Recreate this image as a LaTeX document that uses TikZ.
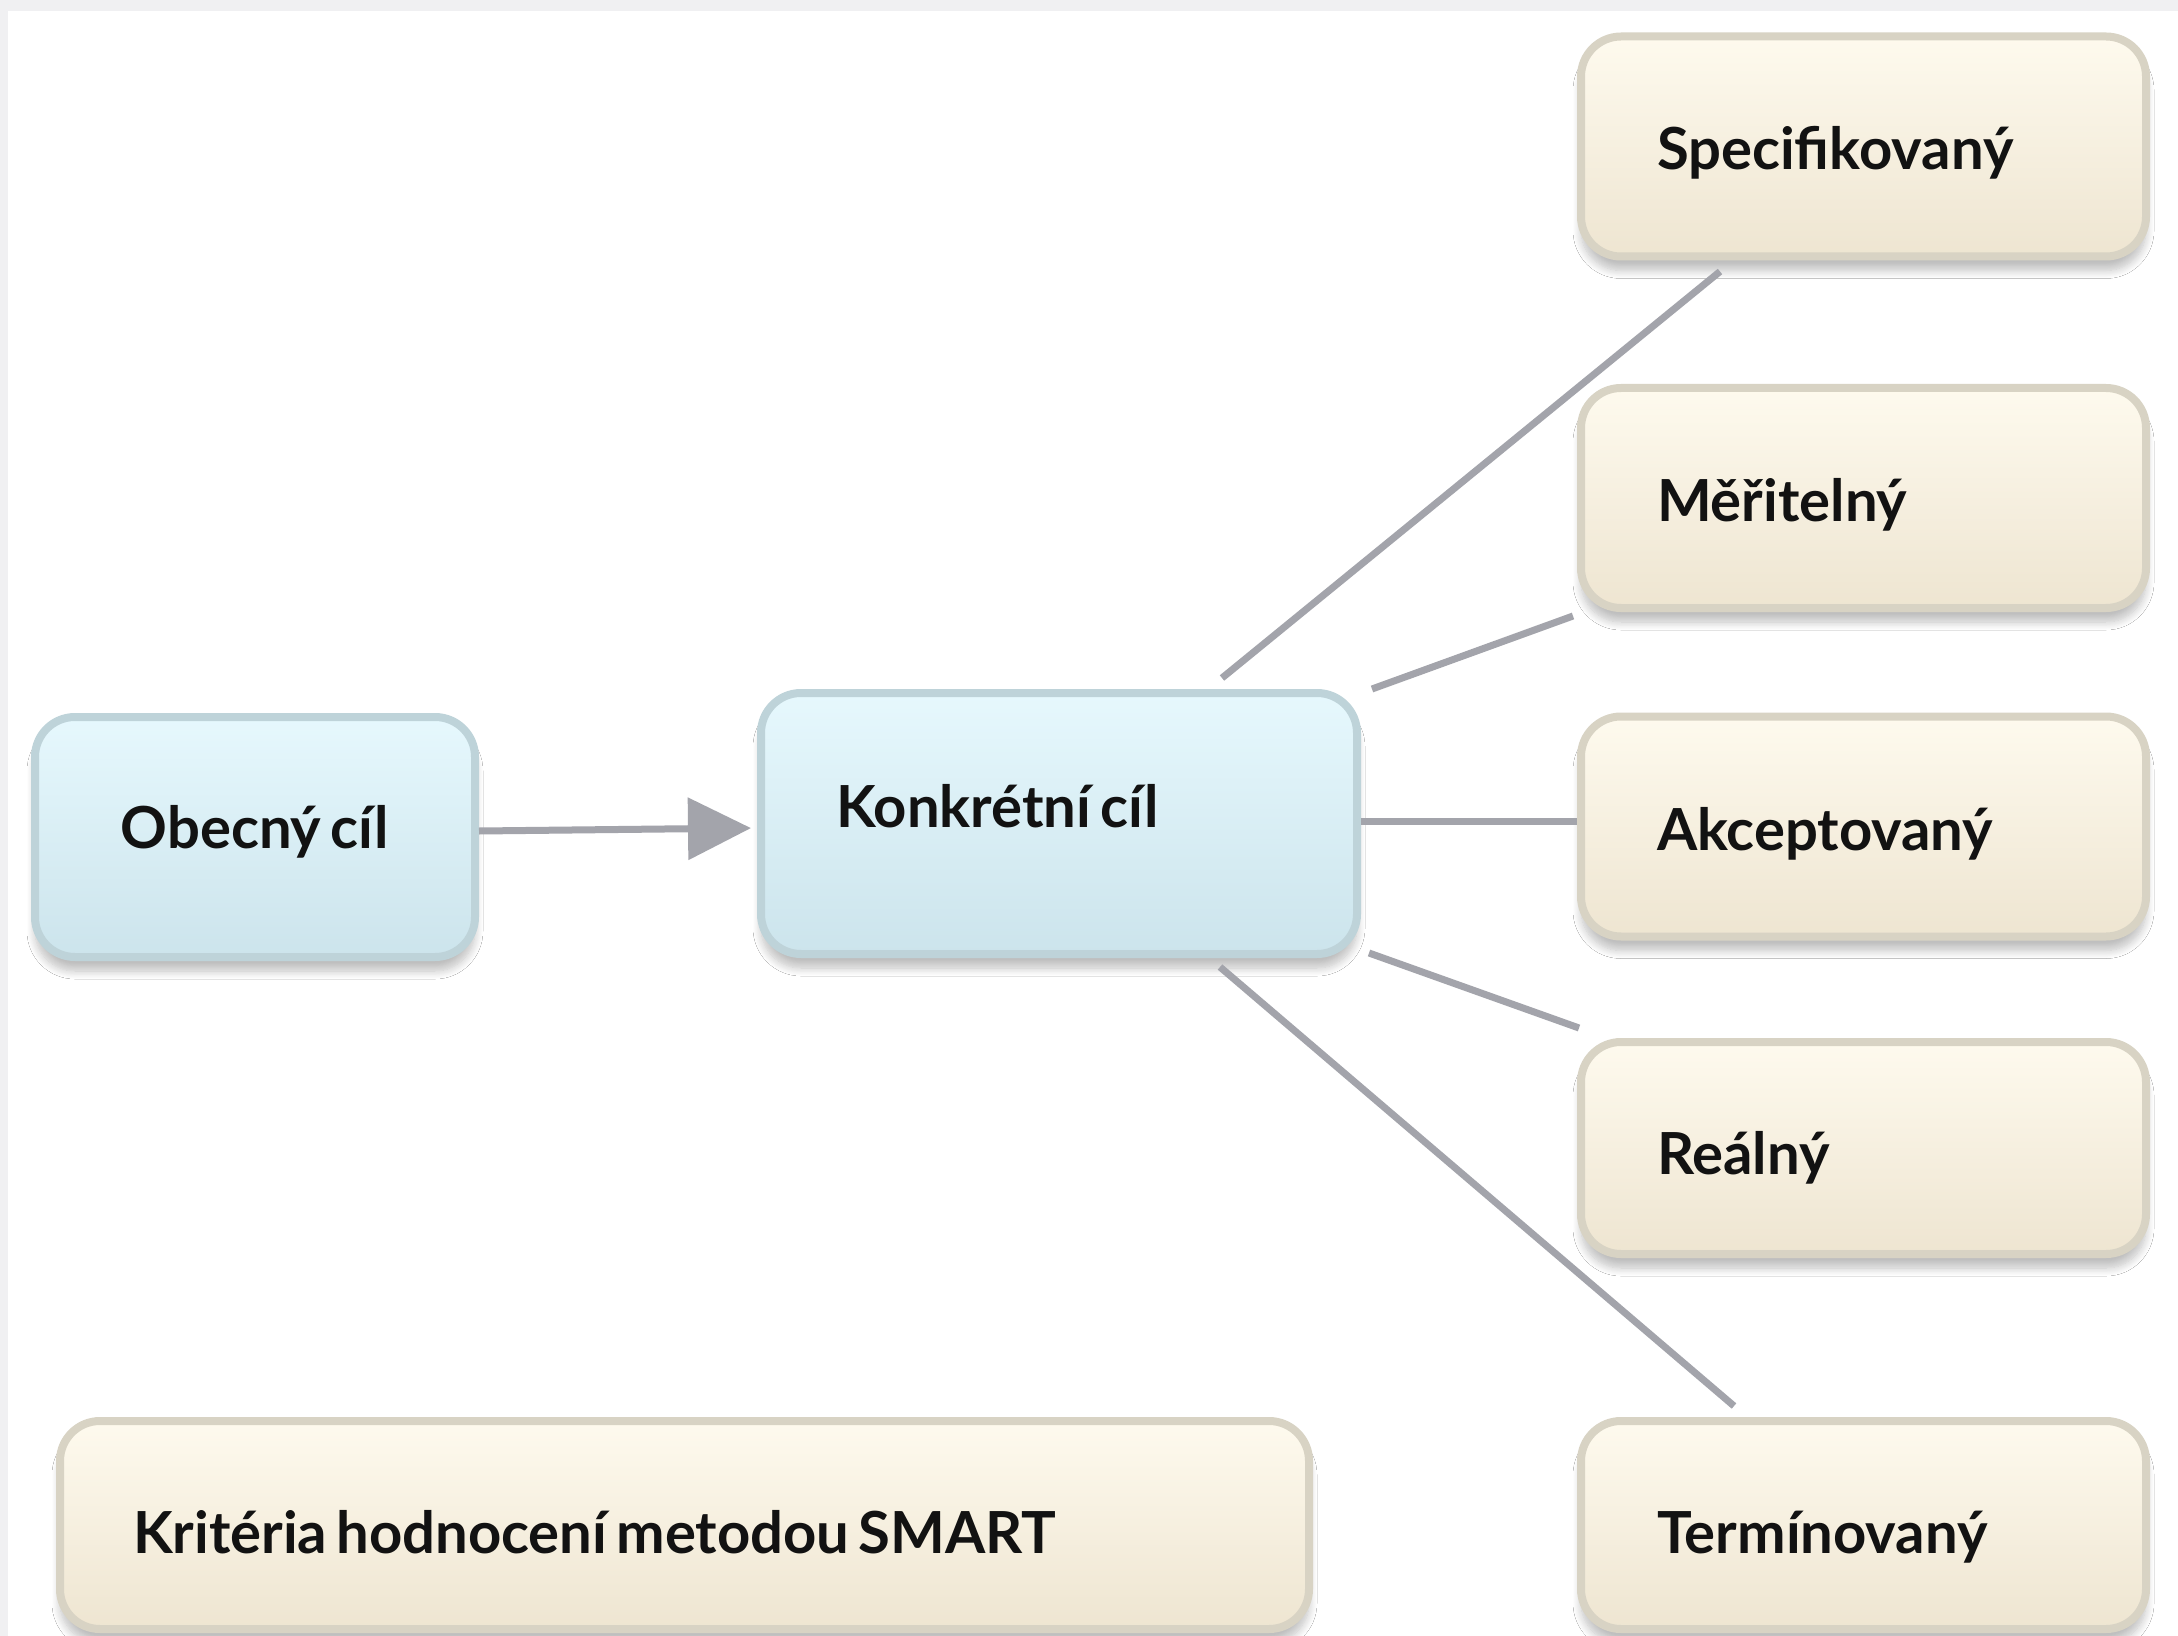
\documentclass[tikz,border=0pt]{standalone}
\usepackage{fontspec}
\setmainfont{Lato}[WordSpace={0.65,0.3,0.3}]
\usetikzlibrary{arrows.meta,shadows.blur}
\definecolor{bgframe}{HTML}{F0F0F2}
\definecolor{bluetop}{HTML}{E6F8FD}
\definecolor{bluebot}{HTML}{CCE4EC}
\definecolor{blueline}{HTML}{BED3D9}
\definecolor{beigetop}{HTML}{FEFAEE}
\definecolor{beigebot}{HTML}{EEE5D1}
\definecolor{beigeline}{HTML}{D8D3C4}
\definecolor{conn}{HTML}{A3A4AB}
\definecolor{txt}{HTML}{121212}
\tikzset{
  box/.style={rectangle, rounded corners=20pt, line width=4pt, inner ysep=0pt,
    font=\fontsize{29}{34}\selectfont\bfseries, text=txt, text depth=6pt,
    execute at begin node={\spaceskip=\fontdimen2\font\xspaceskip=\fontdimen2\font\relax},
    blur shadow={shadow xshift=0pt, shadow yshift=-7pt, shadow blur steps=10, shadow blur radius=4pt, shadow opacity=25}},
  bluebox/.style={box, draw=blueline, top color=bluetop, bottom color=bluebot},
  beigebox/.style={box, draw=beigeline, top color=beigetop, bottom color=beigebot},
  rightbox/.style={beigebox, minimum width=282.5pt, inner xsep=38pt, text width=206.5pt},
  link/.style={draw=conn, line width=3.5pt},
}
\begin{document}
\begin{tikzpicture}[x=0.5pt,y=-0.5pt]
\useasboundingbox (0,0) rectangle (2178,1636);
\fill[white] (0,0) rectangle (2178,1636);
\fill[bgframe] (0,0) rectangle (2178,11);
\fill[bgframe] (0,0) rectangle (8,1636);

\node[bluebox, minimum width=220pt, minimum height=120pt, inner xsep=0pt, text height=17pt] (ob) at (255,837) {Obecný cíl};
\node[bluebox, minimum width=298pt, minimum height=130.5pt, inner xsep=37.5pt, text width=223pt, text height=9.5pt] (kk) at (1059,823.5) {Konkrétní cíl};

\node[rightbox, minimum height=110pt, text height=29.5pt] (spec) at (1863.5,146.5) {Specifikovaný};
\node[rightbox, minimum height=110pt, text height=30pt] (mer) at (1863.5,498) {Měřitelný};
\node[rightbox, minimum height=110pt, text height=29.5pt] (akc) at (1863.5,826.5) {Akceptovaný};
\node[rightbox, minimum height=106pt, text height=32pt] (real) at (1863.5,1148) {Reálný};
\node[rightbox, minimum height=104pt, text height=34pt] (term) at (1863.5,1525) {Termínovaný};

\node[beigebox, minimum width=624.5pt, minimum height=104pt, inner xsep=36.5pt, text width=551.5pt, text height=34pt] (kr) at (684.5,1525) {Kritéria hodnocení metodou SMART};

\draw[link, -{Triangle[length=31.5pt,width=30.5pt]}, shorten >=3pt] ([yshift=3pt]ob.east) -- ([yshift=-2.25pt]kk.west);
\draw[link] ([xshift=81.5pt,yshift=5.5pt]kk.north) -- ([xshift=-71.75pt,yshift=-5.5pt]spec.south);
\draw[link] ([xshift=5.5pt]kk.north east) -- ([xshift=-2pt,yshift=-2pt]mer.south west);
\draw[link] ([yshift=1.25pt]kk.east) -- ([yshift=2.75pt]akc.west);
\draw[link] ([xshift=4pt,yshift=2.5pt]kk.south east) -- ([xshift=1pt,yshift=5pt]real.north west);
\draw[link] ([xshift=80.5pt,yshift=-4.5pt]kk.south) -- ([xshift=-64.75pt,yshift=5.5pt]term.north);
\end{tikzpicture}
\end{document}
